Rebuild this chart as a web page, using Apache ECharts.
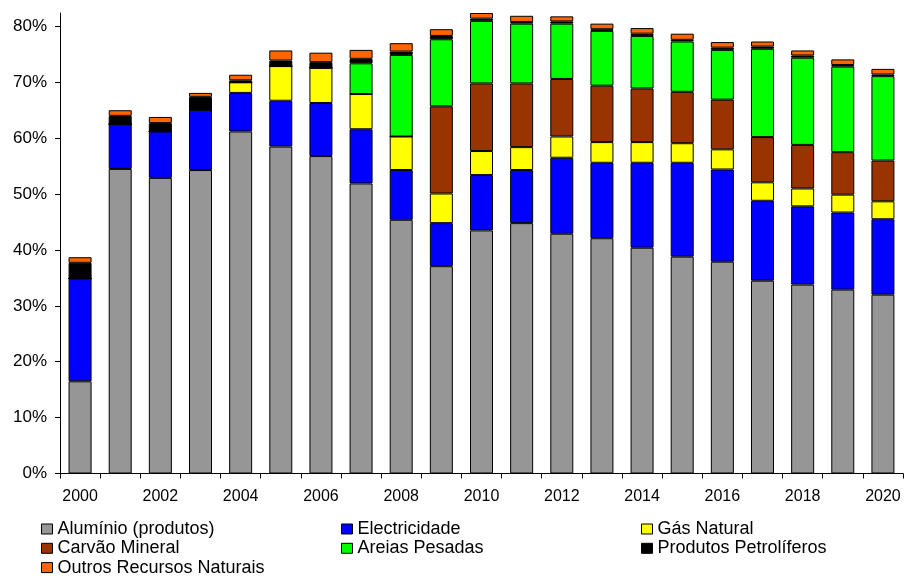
<!DOCTYPE html>
<html>
<head>
<meta charset="utf-8">
<script src="https://cdn.jsdelivr.net/npm/echarts@6/dist/echarts.min.js"></script>
<style>
  html, body { margin: 0; padding: 0; background: #fff; }
  #chart { width: 905px; height: 576px; }
</style>
</head>
<body>
<div id="chart"></div>
<script>
// Years on the category axis
const years = ['2000','2001','2002','2003','2004','2005','2006','2007','2008','2009','2010',
               '2011','2012','2013','2014','2015','2016','2017','2018','2019','2020'];

// Shares (%) by product, stacked bottom to top
const aluminio     = [16.5, 54.5, 52.9, 54.3, 61.2, 58.5, 56.8, 51.9, 45.4, 37.1, 43.5, 44.8, 42.9, 42.1, 40.4, 38.8, 37.9, 34.5, 33.8, 32.9, 32.0];
const electricidade= [18.4,  8.0,  8.3, 10.8,  6.9,  8.2,  9.5,  9.7,  8.9,  7.7,  9.9,  9.5, 13.6, 13.5, 15.2, 16.8, 16.5, 14.3, 14.0, 13.8, 13.5];
const gasNatural   = [ 0,    0,    0,    0,    1.9,  6.2,  6.3,  6.3,  6.0,  5.3,  4.3,  4.1,  3.8,  3.7,  3.7,  3.5,  3.6,  3.3,  3.2,  3.2,  3.2];
const carvao       = [ 0,    0,    0,    0,    0,    0,    0,    0,    0,   15.6, 12.1, 11.4, 10.3, 10.1,  9.6,  9.2,  8.9,  8.1,  7.8,  7.6,  7.3];
const areias       = [ 0,    0,    0,    0,    0,    0,    0,    5.5, 14.6, 12.0, 11.2, 10.7,  9.9,  9.8,  9.4,  9.0,  8.9, 15.8, 15.6, 15.3, 15.1];
const petroliferos = [ 2.8,  1.5,  1.5,  2.3,  0.35, 1.0,  1.0,  0.8,  0.6,  0.6,  0.4,  0.3,  0.4,  0.3,  0.4,  0.3,  0.4,  0.4,  0.4,  0.3,  0.3];
const outros       = [ 1.0,  1.0,  1.1,  0.7,  1.0,  1.8,  1.7,  1.6,  1.5,  1.2,  1.0,  1.1,  0.9,  1.0,  1.0,  1.1,  1.0,  0.9,  0.9,  1.0,  1.0];

// Value-axis ticks
const yTicks = [0, 10, 20, 30, 40, 50, 60, 70, 80];

// Series definitions; col/row place each entry in the three-column legend
const seriesDefs = [
  { name: 'Alumínio (produtos)',      data: aluminio,      color: '#969696', col: 0, row: 0 },
  { name: 'Electricidade',            data: electricidade, color: '#0000FF', col: 1, row: 0 },
  { name: 'Gás Natural',              data: gasNatural,    color: '#FFFF00', col: 2, row: 0 },
  { name: 'Carvão Mineral',           data: carvao,        color: '#993300', col: 0, row: 1 },
  { name: 'Areias Pesadas',           data: areias,        color: '#00FF00', col: 1, row: 1 },
  { name: 'Produtos Petrolíferos',    data: petroliferos,  color: '#000000', col: 2, row: 1 },
  { name: 'Outros Recursos Naturais', data: outros,        color: '#FF6600', col: 0, row: 2 }
];

const font = 'Arial, "Liberation Sans", Helvetica, sans-serif';
const legendCols = [41, 341, 641];
const legendRowTop = 520;
const legendRowStep = 19.3;

const legends = seriesDefs.map(s => ({
  orient: 'horizontal',
  left: legendCols[s.col],
  top: legendRowTop + s.row * legendRowStep,
  padding: 0,
  itemWidth: 11,
  itemHeight: 10,
  icon: 'rect',
  selectedMode: false,
  itemStyle: { borderColor: '#000', borderWidth: 1 },
  textStyle: { fontFamily: font, fontSize: 18, color: '#000' },
  data: [s.name]
}));

const chart = echarts.init(document.getElementById('chart'), null, { renderer: 'canvas' });
chart.setOption({
  animation: false,
  backgroundColor: '#fff',
  grid: { left: 60, right: 2, top: 13, bottom: 102.5, containLabel: false },
  legend: legends,
  xAxis: {
    type: 'category',
    data: years,
    boundaryGap: true,
    axisLine: { lineStyle: { color: '#000', width: 1 } },
    axisTick: { show: true, interval: 0, length: 5, lineStyle: { color: '#000' } },
    axisLabel: { interval: 1, margin: 15, fontFamily: font, fontSize: 16, color: '#000' },
    splitLine: { show: false }
  },
  yAxis: {
    type: 'value',
    min: 0,
    max: 82.4,
    interval: 10,
    axisLine: { show: true, lineStyle: { color: '#000', width: 1 } },
    axisTick: { show: true, length: 5, lineStyle: { color: '#000' }, customValues: yTicks },
    axisLabel: {
      customValues: yTicks,
      margin: 13,
      fontFamily: font, fontSize: 17, color: '#000',
      formatter: '{value}%'
    },
    splitLine: { show: false }
  },
  series: seriesDefs.map(s => ({
    name: s.name,
    type: 'bar',
    stack: 'total',
    barWidth: 23,
    clip: false,
    data: s.data,
    itemStyle: { color: s.color, borderColor: '#000', borderWidth: 1 }
  }))
});
</script>
</body>
</html>
